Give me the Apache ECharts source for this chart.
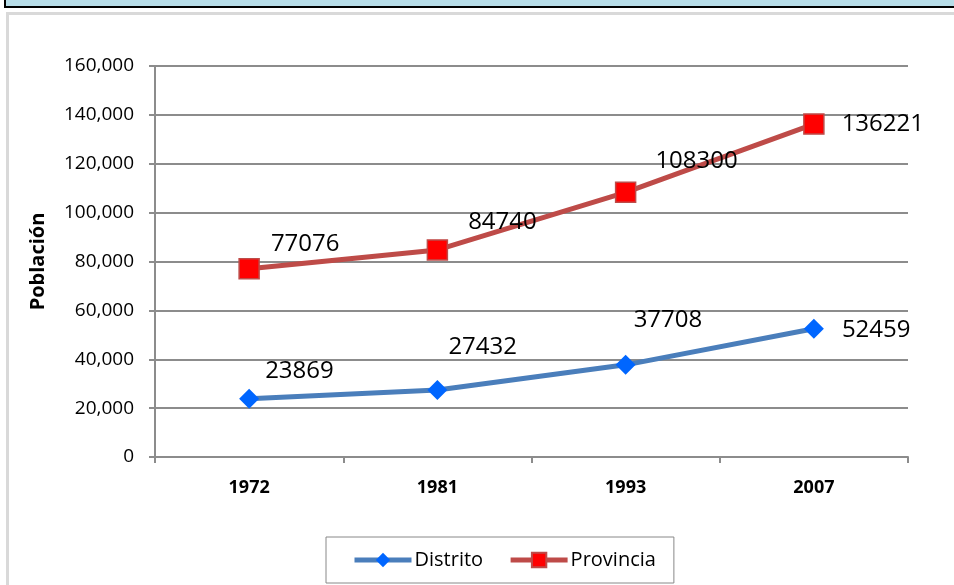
<!DOCTYPE html>
<html>
<head>
<meta charset="utf-8">
<script src="https://cdn.jsdelivr.net/npm/echarts@6/dist/echarts.min.js"></script>
<style>
  html, body { margin: 0; padding: 0; background: #ffffff; }
  #chart { width: 954px; height: 585px; }
</style>
</head>
<body>
<div id="chart"></div>
<script>
const years = ['1972', '1981', '1993', '2007'];
const distrito = [23869, 27432, 37708, 52459];
const provincia = [77076, 84740, 108300, 136221];
const seriesNames = ['Distrito', 'Provincia'];
const yAxisTitle = 'Población';

// label placement tweaks (layout only)
const distritoLabelOffsets = [[1, -28], [-4, -43], [-7, -45], [13, 1]];
const provinciaLabelOffsets = [[6, -24], [15, -28], [14, -31], [12, 0]];

const FONT = '"Open Sans", "Liberation Sans", sans-serif';

function withOffsets(values, offsets) {
  return values.map((v, i) => ({
    value: v,
    label: { offset: offsets[i] }
  }));
}

const chart = echarts.init(document.getElementById('chart'), null, { renderer: 'canvas' });

chart.setOption({
  backgroundColor: '#ffffff',
  animation: false,
  textStyle: { fontFamily: FONT },
  graphic: [
    {
      type: 'rect',
      shape: { x: 5, y: -10, width: 960, height: 17 },
      style: { fill: '#b7dde8', stroke: '#000000', lineWidth: 2 },
      z: 100
    },
    {
      type: 'rect',
      shape: { x: 7.5, y: 13.5, width: 960, height: 600 },
      style: { fill: 'none', stroke: '#d9d9d9', lineWidth: 3 },
      z: 100
    }
  ],
  grid: { left: 155, right: 46, top: 66, bottom: 128, containLabel: false },
  legend: {
    left: 326,
    top: 537,
    padding: [13, 18, 13, 26],
    itemWidth: 57,
    itemHeight: 18,
    itemGap: 25,
    borderColor: '#888888',
    borderWidth: 1,
    lineStyle: { width: 5 },
    textStyle: { fontSize: 20, color: '#000000', fontFamily: FONT, padding: [0, 0, 0, -2] },
    data: seriesNames
  },
  xAxis: {
    type: 'category',
    data: years,
    boundaryGap: true,
    axisLine: { lineStyle: { color: '#8c8c8c', width: 2 } },
    axisTick: { show: true, length: 6, lineStyle: { color: '#8c8c8c', width: 2 } },
    axisLabel: { fontSize: 18, fontWeight: 'bold', color: '#000000', margin: 22, fontFamily: FONT }
  },
  yAxis: {
    type: 'value',
    min: 0,
    max: 160000,
    interval: 20000,
    name: yAxisTitle,
    nameLocation: 'middle',
    nameRotate: 90,
    nameGap: 107,
    nameTextStyle: { fontSize: 20, fontWeight: 'bold', color: '#000000', fontFamily: FONT },
    axisLine: { show: true, lineStyle: { color: '#8c8c8c', width: 2 } },
    axisTick: { show: true, length: 6, lineStyle: { color: '#8c8c8c', width: 2 } },
    splitLine: { show: true, lineStyle: { color: '#8c8c8c', width: 2 } },
    axisLabel: {
      fontSize: 19, color: '#000000', margin: 21, fontFamily: FONT,
      formatter: v => v.toLocaleString('en-US')
    }
  },
  series: [
    {
      name: seriesNames[0],
      type: 'line',
      data: withOffsets(distrito, distritoLabelOffsets),
      symbol: 'diamond',
      symbolSize: 20,
      lineStyle: { color: '#4a7ebb', width: 5 },
      itemStyle: { color: '#0066ff' },
      label: {
        show: true, position: 'right', distance: 5,
        fontSize: 24, color: '#000000', fontFamily: FONT
      },
      z: 3
    },
    {
      name: seriesNames[1],
      type: 'line',
      data: withOffsets(provincia, provinciaLabelOffsets),
      symbol: 'rect',
      symbolSize: 20,
      lineStyle: { color: '#be4b48', width: 5 },
      itemStyle: { color: '#ff0000', borderColor: '#be4b48', borderWidth: 1.5 },
      label: {
        show: true, position: 'right', distance: 5,
        fontSize: 24, color: '#000000', fontFamily: FONT
      },
      z: 3
    }
  ]
});
</script>
</body>
</html>
